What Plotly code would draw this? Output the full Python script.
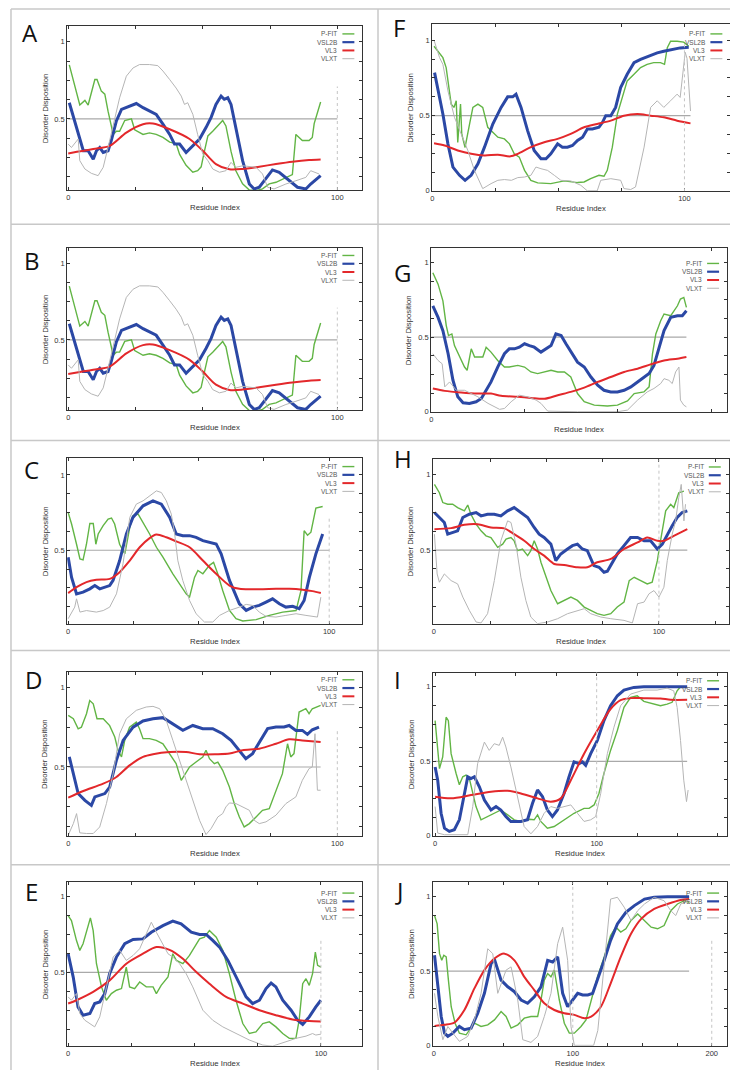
import plotly.graph_objects as go

# ---------------- data: (residue index, disorder score) ----------------
A_PFIT = [(0.4,0.85),(4.3,0.59),(6.2,0.62),(7.4,0.59),(9.9,0.755),(10.7,0.755),(12.3,0.68),(13.6,0.66),(14.8,0.55),(16.7,0.40),
          (17.9,0.42),(19.1,0.42),(21,0.49),(23.5,0.50),(24.7,0.43),(27.8,0.40),(30.2,0.41),(32.7,0.40),(35.2,0.38),(37.7,0.35),
          (40.1,0.34),(41.4,0.27),(43.8,0.20),(46.3,0.155),(48.1,0.165),(49.4,0.19),(50.6,0.29),(51.9,0.39),(53.7,0.42),(55.6,0.455),
          (57.4,0.49),(58.6,0.455),(60.5,0.29),(62.3,0.165),(64.8,0.08),(67.3,0.04),(69.8,0.036),(72.2,0.047),(74.7,0.08),(77.2,0.09),
          (80.9,0.12),(83.3,0.14),(84.6,0.40),(85.8,0.38),(87,0.36),(89.5,0.36),(90.7,0.38),(91.4,0.47),(93.8,0.61)]
A_VSL2B = [(0.4,0.605),(1.9,0.51),(3.7,0.40),(5.6,0.294),(7.4,0.294),(9.3,0.24),(10.5,0.294),(11.7,0.315),(13,0.283),(14.8,0.294),
           (16,0.36),(17.9,0.487),(19.8,0.562),(22.8,0.584),(25.3,0.60),(27.8,0.573),(30.2,0.55),(32.7,0.53),(35.2,0.466),(37.7,0.40),
           (39.5,0.337),(41.4,0.337),(43.8,0.283),(46.3,0.326),(48.8,0.37),(51.2,0.444),(53.1,0.51),(54.9,0.594),(56.8,0.648),(58,0.627),
           (59.3,0.637),(60.5,0.594),(62.3,0.444),(64.8,0.23),(67.3,0.079),(69.1,0.047),(71,0.058),(72.8,0.10),(75.9,0.17),(78.4,0.155),
           (82.1,0.10),(85.2,0.058),(88.3,0.047),(90.1,0.079),(93.8,0.133)]
A_VL3 = [(0,0.277),(9.3,0.305),(15.4,0.326),(21.6,0.412),(27.8,0.466),(31.5,0.47),(37.7,0.433),(45.1,0.37),(50,0.294),(54.9,0.208),
         (59.9,0.174),(64.8,0.176),(71,0.191),(77.2,0.208),(83.3,0.223),(89.5,0.234),(93.8,0.238)]
A_VLXT = [(0,0.337),(1.2,0.315),(3.7,0.37),(4.3,0.23),(6.2,0.176),(8.6,0.148),(11.1,0.133),(13,0.187),(14.8,0.315),(16.7,0.466),
          (19.1,0.637),(21.6,0.777),(24.1,0.83),(26.5,0.852),(30.2,0.852),(33.3,0.845),(35.2,0.81),(37.7,0.755),(40.1,0.70),(42,0.648),
          (43.2,0.594),(44.4,0.605),(46.3,0.53),(48.1,0.40),(50,0.273),(51.9,0.23),(53.7,0.176),(56.2,0.155),(58.6,0.165),(60.5,0.219),
          (62.3,0.187),(64.8,0.197),(69.8,0.187),(72.2,0.144),(74.1,0.058),(76.5,0.047),(80.9,0.079),(84.6,0.10),(88.3,0.122),(90.1,0.165),
          (91.4,0.155),(93.2,0.144)]

# panel B shows the same profiles as panel A
B_PFIT = list(A_PFIT)
B_VSL2B = list(A_VSL2B)
B_VL3 = list(A_VL3)
B_VLXT = list(A_VLXT)

C_PFIT = [(0,0.75),(1.3,0.674),(3.2,0.54),(4.5,0.443),(5.7,0.436),(7,0.54),(8.3,0.678),(9.6,0.678),(10.6,0.54),(11.5,0.608),
          (13.4,0.663),(15.3,0.707),(16.6,0.714),(17.8,0.674),(19.7,0.54),(21.7,0.476),(23.6,0.652),(24.8,0.729),(26.8,0.74),(28.7,0.685),
          (31.2,0.608),(33.8,0.52),(36.3,0.454),(40.1,0.344),(42.7,0.278),(45.2,0.211),(46.5,0.19),(48.4,0.32),(49.7,0.366),(51.6,0.344),
          (54.1,0.40),(55.7,0.42),(57.3,0.344),(59.2,0.233),(61.8,0.101),(64.3,0.046),(66.9,0.031),(72,0.04),(77.1,0.068),(82.2,0.09),
          (87.3,0.10),(89.2,0.233),(90.4,0.63),(91.7,0.60),(93,0.62),(94.9,0.78),(97.5,0.79)]
C_VSL2B = [(0,0.454),(1.3,0.32),(3.2,0.211),(5.7,0.222),(8.3,0.244),(10.2,0.266),(12.1,0.244),(14,0.255),(15.9,0.266),(17.2,0.30),
           (19.7,0.43),(22.3,0.608),(24.8,0.718),(28.7,0.795),(32.5,0.828),(35.7,0.806),(38.9,0.718),(41.4,0.608),(43.9,0.597),(46.5,0.597),
           (49,0.586),(51.6,0.564),(54.1,0.553),(56.7,0.542),(58.6,0.476),(61.8,0.30),(65.6,0.145),(68.2,0.101),(70.7,0.123),(73.2,0.134),
           (75.8,0.156),(78.3,0.178),(80.9,0.145),(83.4,0.123),(86,0.128),(88.5,0.112),(90.4,0.167),(92.4,0.32),(94.9,0.476),(97.5,0.608)]
C_VL3 = [(0,0.216),(3.2,0.255),(7,0.289),(10.8,0.304),(15.9,0.31),(19.7,0.355),(23.6,0.432),(27.4,0.52),(31.2,0.581),(33.8,0.604),
         (37.6,0.586),(41.4,0.559),(46.5,0.52),(51.6,0.432),(56.7,0.344),(61.8,0.266),(65.6,0.244),(73.2,0.242),(79.6,0.244),(84.7,0.244),
         (89.8,0.238),(93.6,0.229),(96.8,0.216)]
C_VLXT = [(0,0.046),(2.5,0.123),(3.2,0.178),(4.5,0.09),(7,0.10),(10.8,0.09),(13.4,0.10),(15.9,0.123),(18.5,0.211),(21,0.41),
          (23.6,0.718),(26.1,0.806),(28.7,0.828),(31.2,0.861),(33.8,0.894),(35.7,0.883),(37.6,0.828),(39.5,0.74),(40.8,0.608),(42,0.432),
          (43.9,0.30),(46.5,0.167),(49,0.079),(52.2,0.024),(55.4,0.024),(58,0.068),(61.8,0.101),(65.6,0.123),(68.2,0.141),(70.7,0.134),
          (73.2,0.09),(75.8,0.062),(79.6,0.057),(83.4,0.068),(87.3,0.079),(91.1,0.068),(93.6,0.062),(95.5,0.057),(96.8,0.189)]

D_PFIT = [(0,0.824),(1.9,0.803),(3.7,0.74),(4.9,0.75),(6.8,0.835),(8,0.918),(9.3,0.897),(10.7,0.803),(13,0.803),(15.4,0.76),
          (17.3,0.688),(18.5,0.605),(19.8,0.563),(21,0.667),(22.8,0.75),(25.3,0.782),(26.5,0.74),(27.8,0.678),(30.2,0.678),(32.7,0.667),
          (35.2,0.646),(37.7,0.584),(40.1,0.521),(42,0.416),(43.2,0.448),(45.1,0.50),(47.5,0.531),(50,0.563),(51.2,0.605),(52.5,0.552),
          (54.3,0.521),(55.6,0.531),(57.4,0.479),(59.9,0.374),(61.7,0.27),(63.6,0.186),(65.4,0.123),(67.3,0.144),(69.8,0.186),(72.2,0.228),
          (74.7,0.238),(77.2,0.354),(79.6,0.458),(81.5,0.646),(82.7,0.563),(83.9,0.584),(85.8,0.845),(88.3,0.866),(89.5,0.835),(90.7,0.866),
          (93.8,0.887)]
D_VSL2B = [(0.4,0.563),(1.9,0.458),(3.7,0.333),(6.2,0.29),(8.6,0.259),(9.9,0.312),(11.7,0.322),(13.6,0.333),(15.4,0.374),(17.9,0.542),
           (20.4,0.667),(24.1,0.75),(27.8,0.789),(31.5,0.803),(35.2,0.81),(38.9,0.772),(42.6,0.73),(46.3,0.761),(50,0.741),(53.7,0.741),
           (57.4,0.709),(60.5,0.667),(63.6,0.605),(66,0.552),(68.5,0.584),(71.6,0.667),(74.1,0.741),(77.2,0.751),(80.2,0.751),(82.1,0.761),
           (84.6,0.73),(87,0.73),(88.9,0.705),(90.7,0.734),(93.2,0.751)]
D_VL3 = [(0,0.307),(5.6,0.349),(13,0.395),(17.9,0.437),(22.8,0.51),(27.8,0.563),(31.5,0.58),(37.7,0.594),(43.8,0.594),(48.8,0.58),
         (54.9,0.58),(59.9,0.584),(64.8,0.605),(71,0.615),(77.2,0.646),(82.1,0.674),(87,0.667),(93.8,0.657)]
D_VLXT = [(0,0.071),(1.9,0.144),(3.1,0.207),(4.3,0.086),(6.8,0.082),(9.3,0.082),(11.7,0.123),(14.2,0.27),(16.7,0.458),(19.1,0.709),
          (21.6,0.803),(25.3,0.856),(29,0.877),(31.5,0.881),(34,0.866),(36.4,0.793),(38.9,0.667),(41.4,0.542),(43.8,0.416),(46.3,0.291),
          (48.8,0.165),(51.2,0.075),(53.1,0.113),(55.6,0.186),(57.4,0.207),(58.6,0.249),(59.9,0.274),(62.3,0.27),(64.8,0.249),(67.3,0.228),
          (69.1,0.165),(71,0.144),(73.5,0.155),(77.2,0.197),(80.9,0.27),(84.6,0.312),(87,0.416),(89.5,0.49),(90.7,0.50),(91.7,0.709),
          (92.6,0.354),(93.8,0.354)]

E_PFIT = [(0,0.875),(1.3,0.842),(3.3,0.71),(4.6,0.645),(5.9,0.689),(7.9,0.82),(8.8,0.86),(9.9,0.776),(11.2,0.557),(13.2,0.404),
          (15.1,0.316),(17.1,0.36),(19.1,0.382),(21.1,0.393),(23,0.535),(24.3,0.404),(26.3,0.393),(28.3,0.436),(30.9,0.404),(33.6,0.404),
          (34.9,0.36),(36.8,0.414),(39.5,0.469),(41.4,0.623),(42.8,0.579),(45.4,0.557),(48,0.612),(50,0.667),(52,0.721),(53.9,0.732),
          (55.9,0.776),(58.6,0.732),(61.2,0.645),(63.8,0.491),(66.4,0.316),(69.1,0.162),(71.7,0.096),(74.3,0.107),(77,0.162),(79.6,0.173),
          (82.2,0.14),(84.9,0.096),(87.5,0.064),(90.1,0.064),(91.4,0.184),(92.8,0.425),(94.1,0.458),(95.4,0.414),(96.7,0.491),(97.8,0.634),
          (98.7,0.546),(100,0.535)]
E_VSL2B = [(0,0.623),(2,0.469),(3.9,0.272),(5.9,0.217),(8.6,0.228),(10.5,0.294),(12.5,0.305),(14.5,0.36),(16.4,0.491),(19.1,0.601),
           (22.4,0.689),(25.7,0.717),(29.6,0.721),(32.9,0.765),(37.5,0.809),(41.4,0.838),(44.7,0.82),(48.7,0.765),(52,0.75),(54.6,0.75),
           (57.2,0.711),(59.9,0.667),(63.2,0.579),(66.4,0.469),(70.4,0.338),(73,0.294),(75.7,0.316),(78.3,0.393),(80.3,0.43),(82.2,0.404),
           (84.9,0.316),(88.2,0.25),(90.8,0.184),(92.8,0.156),(95.4,0.206),(98,0.272),(100,0.316)]
E_VL3 = [(0,0.294),(3.3,0.316),(9.9,0.371),(16.4,0.447),(23,0.557),(29.6,0.623),(34.9,0.667),(40.1,0.649),(45.4,0.59),(50.7,0.502),
         (55.9,0.425),(62.5,0.338),(69.1,0.294),(75.7,0.25),(82.2,0.217),(88.8,0.189),(95.4,0.178),(100,0.175)]
E_VLXT = [(0,0.338),(1.3,0.316),(3.3,0.36),(4.6,0.228),(6.6,0.184),(8.6,0.162),(10.5,0.14),(12.5,0.206),(15.1,0.404),(17.8,0.601),
          (20.4,0.645),(23,0.579),(25.7,0.612),(28.3,0.656),(30.9,0.754),(32.9,0.831),(34.9,0.765),(37.5,0.689),(39.5,0.623),(41.4,0.601),
          (44.1,0.557),(46.7,0.491),(49.3,0.404),(53.3,0.25),(57.2,0.184),(61.2,0.14),(66.4,0.096),(71.7,0.053),(77,0.02),(80.9,0.013),
          (86.2,0.042),(90.1,0.064),(94.1,0.079),(96.7,0.096),(98,0.086),(100,0.092)]

F_PFIT = [(0.7,0.96),(2.2,0.927),(4.2,0.884),(5.5,0.818),(6.5,0.708),(7.5,0.576),(8.6,0.554),(9.5,0.598),(10.1,0.321),(11.2,0.576),
          (11.7,0.376),(13,0.288),(14.8,0.444),(16.1,0.554),(18.1,0.576),(20,0.554),(22,0.422),(24,0.389),(26,0.356),(28.6,0.345),
          (30.6,0.312),(32.5,0.246),(34.5,0.224),(36.6,0.136),(39.1,0.07),(41.8,0.053),(47,0.048),(52.3,0.066),(57.6,0.055),(60.2,0.059),
          (62.8,0.081),(66.1,0.103),(68.1,0.097),(69.4,0.136),(71.4,0.29),(73.4,0.51),(75.4,0.62),(77.3,0.73),(80,0.774),(82.6,0.818),
          (85.2,0.84),(87.8,0.851),(90.5,0.851),(92.1,0.84),(93.2,0.95),(94.5,0.993),(97.1,0.993),(99.7,0.987),(101.7,0.96)]
F_VSL2B = [(0.9,0.785),(2.2,0.686),(4.2,0.51),(6.2,0.312),(8.2,0.158),(10.8,0.103),(13,0.07),(15.4,0.103),(18.1,0.18),(20.7,0.29),
           (24,0.444),(27.3,0.554),(29.9,0.624),(31.9,0.624),(33.2,0.642),(35.2,0.554),(37.8,0.40),(40.4,0.268),(43.1,0.213),(45.1,0.213),
           (47,0.246),(49.7,0.312),(51.6,0.29),(53.6,0.29),(55.6,0.301),(57.6,0.334),(59.6,0.356),(61.5,0.411),(63.5,0.411),(66.1,0.422),
           (67.5,0.455),(68.8,0.499),(70.8,0.499),(72.7,0.554),(74.7,0.686),(77.3,0.774),(80,0.851),(82.6,0.873),(85.9,0.895),(89.2,0.916),
           (91.8,0.927),(94.5,0.938),(98.3,0.949),(101.7,0.954)]
F_VL3 = [(0.7,0.316),(4.9,0.301),(10.1,0.268),(15.4,0.246),(20.7,0.235),(26,0.24),(31,0.229),(33.9,0.246),(39.1,0.29),(44.4,0.323),
         (49.7,0.345),(54.9,0.378),(60.2,0.422),(65.4,0.444),(70.8,0.466),(76,0.499),(81.3,0.51),(86.6,0.499),(91.8,0.488),(97.1,0.466),
         (102.4,0.448)]
F_VLXT = [(0.7,1.0),(1.6,0.95),(2.9,0.884),(4.2,0.84),(6.2,0.664),(8.8,0.488),(11.5,0.378),(14.1,0.268),(16.7,0.136),(20,0.015),
          (23.3,0.048),(26,0.07),(28.6,0.075),(31.4,0.07),(33.9,0.088),(36.6,0.092),(39.1,0.103),(41.1,0.158),(43.1,0.147),(45.7,0.136),
          (48.4,0.103),(51,0.07),(54.9,0.066),(58.9,0.037),(61.5,0.0),(65.4,0.0),(66.8,0.07),(70.8,0.081),(74.7,0.07),(76,0.015),
          (78.7,0.009),(80.6,0.026),(84,0.29),(86.6,0.554),(89.2,0.598),(91.8,0.554),(94.5,0.598),(97.1,0.642),(98.3,0.62),(99.7,0.85),
          (100.3,0.92),(101,0.88),(102.4,0.53)]

G_PFIT = [(0.4,0.933),(1.8,0.856),(3.1,0.744),(4,0.578),(4.6,0.511),(5.5,0.522),(6.2,0.444),(7.6,0.367),(8.9,0.30),(9.6,0.278),
          (10.7,0.422),(11.6,0.367),(12.5,0.367),(13.8,0.367),(14.7,0.433),(16,0.40),(17.8,0.344),(19.6,0.30),(20.9,0.30),(23.2,0.311),
          (25,0.30),(26.7,0.267),(28.5,0.256),(30.3,0.267),(32.1,0.278),(33.9,0.267),(35.7,0.267),(37.4,0.233),(39.2,0.122),(41,0.067),
          (43.7,0.044),(47.2,0.038),(49.9,0.044),(52.6,0.073),(54.4,0.122),(57,0.133),(58.4,0.167),(59.3,0.389),(60.2,0.522),(61.5,0.611),
          (62.4,0.656),(64.2,0.644),(66,0.711),(66.8,0.756),(67.7,0.767),(68.4,0.70)]
G_VSL2B = [(0.4,0.711),(1.8,0.633),(3.1,0.544),(4.5,0.389),(5.8,0.211),(7.1,0.10),(8.5,0.06),(10.2,0.056),(12,0.067),(13.4,0.089),
           (14.7,0.144),(16,0.20),(17.8,0.30),(19.6,0.389),(20.9,0.422),(22.3,0.422),(23.6,0.433),(25,0.456),(26.3,0.444),(27.6,0.433),
           (29.4,0.40),(30.7,0.422),(32.1,0.444),(33.4,0.522),(34.8,0.511),(36.1,0.456),(37.9,0.389),(39.2,0.333),(41,0.30),(42.8,0.233),
           (44.6,0.178),(46.3,0.144),(48.1,0.133),(49.9,0.133),(51.7,0.144),(53.5,0.167),(55.3,0.20),(57,0.233),(58.4,0.256),(59.7,0.311),
           (61.1,0.433),(62.4,0.544),(64.2,0.633),(66,0.644),(67.3,0.644),(68.4,0.678)]
G_VL3 = [(0.4,0.156),(3.6,0.14),(8,0.129),(12.5,0.122),(16,0.122),(18.7,0.107),(23.2,0.10),(26.7,0.093),(30.3,0.087),(33.9,0.111),
         (37.4,0.133),(41,0.162),(44.6,0.20),(48.1,0.233),(51.7,0.267),(55.3,0.289),(58.8,0.318),(62.4,0.344),(66,0.356),(68.4,0.367)]
G_VLXT = [(0.4,0.389),(1.8,0.344),(2.9,0.322),(3.6,0.167),(4.9,0.20),(6.7,0.144),(8.9,0.144),(10.7,0.122),(12.5,0.10),(15.2,0.056),
          (18.3,0.016),(19.6,0.022),(21.4,0.067),(23.6,0.111),(25.8,0.10),(28.1,0.078),(29.4,0.056),(31.2,0.004),(35.7,0.0),(39.2,0.0),
          (42.8,0.0),(46.3,0.0),(49.9,0.0),(52.6,0.011),(55.3,0.078),(57.9,0.133),(59.7,0.156),(61.5,0.189),(62.4,0.222),(63.7,0.211),
          (64.6,0.189),(65.5,0.267),(66.4,0.30),(66.8,0.078),(67.7,0.044),(68.4,0.033)]

H_PFIT = [(0.3,0.934),(2.5,0.879),(4,0.814),(6.2,0.803),(8.4,0.803),(10.6,0.781),(13.6,0.759),(15.1,0.798),(16.5,0.737),(18.8,0.671),
          (21,0.627),(23.2,0.594),(25.4,0.583),(28.4,0.518),(30.6,0.539),(32.1,0.572),(34.3,0.583),(35.7,0.561),(37.2,0.496),(39.4,0.507),
          (41.7,0.463),(43.1,0.496),(44.6,0.561),(46.1,0.507),(47.6,0.419),(49.8,0.32),(52,0.232),(55,0.145),(57.9,0.167),(60.9,0.189),
          (63.8,0.167),(66.8,0.123),(69.7,0.101),(72.6,0.079),(75.6,0.068),(78.6,0.079),(81.5,0.123),(84.5,0.156),(86.8,0.298),(89,0.32),
          (91.9,0.298),(94.8,0.276),(97,0.287),(99.3,0.43),(100.7,0.561),(103,0.759),(105.2,0.803),(106.6,0.781),(108.8,0.879),(111.1,0.89)]
H_VSL2B = [(0.3,0.748),(2.5,0.715),(4.7,0.682),(6.2,0.605),(8.4,0.616),(10.6,0.627),(12.9,0.715),(15.8,0.737),(18.8,0.748),(21,0.726),
           (23.9,0.737),(26.9,0.737),(29.8,0.726),(32.8,0.759),(35.7,0.781),(38.7,0.748),(41.7,0.715),(44.6,0.649),(46.8,0.605),(49,0.583),
           (52,0.539),(54.2,0.43),(56.4,0.474),(59.4,0.507),(61.6,0.529),(63.8,0.539),(66,0.507),(68.2,0.496),(71.1,0.397),(73.4,0.386),
           (75.6,0.353),(77.1,0.36),(79.3,0.419),(81.5,0.474),(84.5,0.529),(87.4,0.583),(90.5,0.583),(93.4,0.561),(96.3,0.561),(99.3,0.507),
           (101.5,0.539),(103.7,0.605),(105.9,0.66),(108.1,0.715),(110.3,0.748),(112.6,0.759)]
H_VL3 = [(0.3,0.638),(7.7,0.645),(13.6,0.667),(19.5,0.671),(25.4,0.649),(31.3,0.643),(35.7,0.605),(40.2,0.561),(44.6,0.507),(49,0.463),
         (53.5,0.408),(57.9,0.401),(63.8,0.386),(68.2,0.386),(72.6,0.419),(78.6,0.441),(84.5,0.507),(90.5,0.55),(94.8,0.583),(99.3,0.561),
         (102.2,0.561),(106.6,0.594),(112.6,0.638)]
H_VLXT = [(0.3,0.605),(1.5,0.342),(2.5,0.287),(4.7,0.342),(7.7,0.298),(10.6,0.276),(12.9,0.189),(15.8,0.101),(18.8,0.024),(21,0.018),
          (23.9,0.079),(26.9,0.298),(29.8,0.561),(32.8,0.693),(34.3,0.682),(36.5,0.539),(38.7,0.32),(40.9,0.167),(43.1,0.057),(46.1,0.013),
          (50.5,0.024),(55,0.046),(59.4,0.079),(63.8,0.101),(66.8,0.112),(69.7,0.079),(74.2,0.057),(78.6,0.046),(84.5,0.035),(88.2,0.018),
          (90.5,0.145),(93.4,0.156),(95.6,0.211),(97.8,0.232),(100,0.189),(102.2,0.254),(103.7,0.43),(105.9,0.605),(107.4,0.693),(108.8,0.846),
          (109.9,0.934),(111.1,0.693),(111.8,0.803)]

I_PFIT = [(0,0.773),(1.6,0.551),(2.7,0.451),(4.7,0.529),(6.8,0.796),(8.2,0.773),(9.9,0.551),(13,0.418),(15,0.342),(17.1,0.396),
          (19.1,0.407),(21.2,0.384),(23.3,0.284),(25.3,0.196),(28.4,0.107),(32.5,0.129),(36.6,0.151),(40.7,0.173),(44.9,0.14),(49,0.107),
          (53.1,0.096),(58.2,0.111),(61.3,0.107),(63.4,0.14),(65.4,0.096),(69.5,0.051),(73.7,0.062),(79.8,0.107),(86,0.151),(92.2,0.184),
          (95.3,0.184),(98.4,0.207),(101.4,0.284),(104.5,0.418),(108.6,0.573),(112.8,0.707),(116.9,0.862),(121,0.929),(125.1,0.94),(129.2,0.902),
          (135.4,0.884),(139.5,0.873),(143.6,0.884),(146.7,0.896),(149.8,0.973),(151.9,1.0),(156,0.996)]
I_VSL2B = [(0,0.462),(1.6,0.373),(3.7,0.151),(5.8,0.051),(8.8,0.029),(11.9,0.04),(15,0.107),(18.1,0.284),(20.2,0.396),(22.2,0.384),
           (24.3,0.396),(27.4,0.329),(30.5,0.24),(34.6,0.173),(37.7,0.196),(40.7,0.173),(43.8,0.129),(46.9,0.096),(53.1,0.096),(57.2,0.107),
           (60.3,0.218),(63.4,0.307),(66.5,0.262),(69.5,0.173),(72.6,0.129),(75.7,0.173),(79.8,0.284),(82.9,0.396),(86,0.496),(89.1,0.484),
           (91.2,0.496),(93.2,0.473),(96.3,0.551),(100.4,0.64),(104.5,0.773),(108.6,0.873),(112.8,0.94),(116.9,0.978),(123,0.996),(129.2,1.0),
           (139.5,1.0),(156,1.0)]
I_VL3 = [(0,0.262),(9.9,0.251),(22.2,0.273),(34.6,0.296),(44.9,0.302),(53.1,0.284),(63.4,0.251),(71.6,0.229),(77.8,0.251),(84,0.373),
         (92.2,0.551),(100.4,0.707),(108.6,0.851),(114.8,0.911),(121,0.924),(129.2,0.924),(139.5,0.922),(145.7,0.913),(156,0.913)]
I_VLXT = [(0,0.196),(1.6,0.018),(5.8,0.007),(14,0.007),(20.2,0.007),(23.3,0.196),(26.3,0.484),(30.5,0.629),(33.5,0.573),(36.6,0.618),
          (39.7,0.607),(41.8,0.662),(43.8,0.596),(46.9,0.462),(51,0.262),(55.1,0.062),(59.3,0.013),(63.4,0.062),(67.5,0.151),(71.6,0.196),
          (75.7,0.184),(79.8,0.196),(84,0.207),(88.1,0.151),(92.2,0.096),(96.3,0.107),(99.4,0.129),(102.5,0.284),(106.6,0.551),(110.7,0.729),
          (114.8,0.873),(121,0.951),(129.2,0.978),(137.4,0.978),(143.6,0.991),(147.7,0.973),(149.8,0.862),(151.9,0.64),(153.9,0.373),(155.6,0.229),
          (156.6,0.307)]

J_PFIT = [(0.5,0.873),(2.4,0.817),(4.1,0.617),(5.7,0.572),(7.2,0.606),(8.9,0.595),(10.5,0.439),(12.5,0.26),(15.3,0.149),(18.4,0.082),
          (23.2,0.071),(29.2,0.149),(34,0.127),(38.8,0.138),(43.6,0.171),(48.4,0.227),(52,0.194),(55.6,0.116),(60.4,0.138),(65.1,0.183),
          (69.9,0.194),(74.7,0.194),(77.1,0.305),(79.5,0.439),(81.9,0.483),(84.3,0.461),(86.7,0.506),(90.3,0.305),(93.9,0.149),(97.5,0.082),
          (101.1,0.082),(105.9,0.127),(109.5,0.171),(113.2,0.305),(117.8,0.461),(122.6,0.595),(127.2,0.739),(131,0.795),(134.5,0.762),(138.2,0.784),
          (141.9,0.84),(146.7,0.884),(151.6,0.84),(156.4,0.795),(161,0.784),(165.7,0.806),(170.5,0.906),(175.3,0.951),(180.1,0.973),(183.7,0.962)]
J_VSL2B = [(0.5,0.606),(2.9,0.416),(5.3,0.194),(7.7,0.082),(10.1,0.06),(13.7,0.082),(18.4,0.127),(22,0.105),(26.8,0.116),(31.6,0.216),
           (36.4,0.35),(41.2,0.55),(43.6,0.579),(48.4,0.439),(53.2,0.394),(58,0.361),(62.8,0.305),(67.5,0.283),(72.3,0.327),(77.1,0.394),
           (81.9,0.572),(85.5,0.561),(89.1,0.595),(92.7,0.35),(96.3,0.26),(99.9,0.305),(103.5,0.35),(107.1,0.339),(110.8,0.339),(114.3,0.35),
           (117.8,0.439),(122.6,0.572),(127.2,0.706),(132.1,0.817),(138.2,0.895),(144.3,0.94),(151.6,0.984),(158.6,0.996),(168.1,1.0),(183.7,1.0)]
J_VL3 = [(0.5,0.131),(7.7,0.138),(14.9,0.154),(22,0.238),(29.2,0.383),(36.4,0.506),(43.6,0.584),(50.8,0.617),(58,0.572),(65.1,0.461),
         (72.3,0.372),(79.5,0.283),(86.7,0.238),(93.9,0.216),(101.1,0.205),(108.3,0.183),(113.2,0.194),(120.2,0.26),(127.2,0.416),(134.5,0.595),
         (141.9,0.751),(149.2,0.851),(158.6,0.918),(168.1,0.951),(177.7,0.978),(183.7,0.984)]
J_VLXT = [(0.5,0.35),(2.9,0.194),(6.5,0.038),(10.1,0.127),(13.7,0.082),(18.4,0.027),(24.4,0.06),(29.2,0.171),(34,0.35),(38.8,0.65),
          (42.4,0.617),(46,0.35),(52,0.506),(55.6,0.528),(60.4,0.305),(64,0.038),(69.9,0.02),(74.7,0.06),(79.5,0.194),(84.3,0.35),
          (89.1,0.684),(92.7,0.795),(96.3,0.572),(98.7,0.127),(101.1,0.0),(115,0.0),(118,0.1),(122.6,0.55),(127.2,0.984),(132.1,0.996),
          (137,0.929),(141.9,0.84),(146.7,0.906),(151.6,0.951),(158.6,0.996),(165.7,0.973),(170.5,0.906),(174.1,0.873),(177.7,0.951),(183.7,0.973)]

PANELS = ['A', 'B', 'C', 'D', 'E', 'F', 'G', 'H', 'I', 'J']
SERIES_NAMES = ['P-FIT', 'VSL2B', 'VL3', 'VLXT']
PANEL_DATA = {
    'A': [A_PFIT, A_VSL2B, A_VL3, A_VLXT], 'B': [B_PFIT, B_VSL2B, B_VL3, B_VLXT],
    'C': [C_PFIT, C_VSL2B, C_VL3, C_VLXT], 'D': [D_PFIT, D_VSL2B, D_VL3, D_VLXT],
    'E': [E_PFIT, E_VSL2B, E_VL3, E_VLXT], 'F': [F_PFIT, F_VSL2B, F_VL3, F_VLXT],
    'G': [G_PFIT, G_VSL2B, G_VL3, G_VLXT], 'H': [H_PFIT, H_VSL2B, H_VL3, H_VLXT],
    'I': [I_PFIT, I_VSL2B, I_VL3, I_VLXT], 'J': [J_PFIT, J_VSL2B, J_VL3, J_VLXT],
}
THRESHOLD = 0.5
THRESHOLD_END = {'A': 100, 'B': 100, 'C': 100, 'D': 93.8, 'E': 100, 'F': 102.4, 'G': 68.4, 'H': 112.6, 'I': 156, 'J': 183.7}
# dotted guide lines at residue 100/200: (x, top y)
GUIDES = {'A': [(100, 0.71)], 'B': [(100, 0.71)], 'C': [(100, 0.71)], 'D': [(100, 0.73)], 'E': [(100, 0.71)],
          'F': [(100, 0.98)], 'G': [], 'H': [(100, 1.1)], 'I': [(100, 1.1)], 'J': [(100, 1.1), (200, 0.706)]}
X_RANGE = {'A': [-0.4, 109.3], 'B': [-0.4, 109.3], 'C': [-0.4, 112.7], 'D': [-0.4, 109.3], 'E': [-0.4, 116.4],
           'F': [-0.05, 118.2], 'G': [-0.05, 79.3], 'H': [-0.4, 131], 'I': [-1.4, 180.7], 'J': [-0.7, 211]}
Y_RANGE = {'A': [0.04, 1.1], 'B': [0.04, 1.1], 'C': [0.013, 1.11], 'D': [0.065, 1.10], 'E': [0.015, 1.094],
           'F': [-0.003, 1.108], 'G': [-0.003, 1.1], 'H': [0.013, 1.1], 'I': [-0.003, 1.096], 'J': [-0.003, 1.096]}

# ---------------- layout geometry (pixels) ----------------
W, H = 738, 1070
FRAMES = {  # left, top, right, bottom
    'A': (57.3, 18.3, 353.3, 182.7), 'B': (57.3, 240.7, 353.3, 404.0), 'C': (57.3, 452.0, 353.3, 618.0),
    'D': (57.3, 666.0, 353.3, 831.3), 'E': (57.3, 877.7, 353.3, 1041.7),
    'F': (423.3, 16.0, 722.3, 184.0), 'G': (422.3, 240.7, 719.0, 405.7), 'H': (424.0, 453.0, 720.7, 618.0),
    'I': (424.0, 667.0, 719.0, 831.3), 'J': (424.0, 877.7, 719.0, 1041.7),
}
LETTER_POS = {'A': (20.5, 25), 'B': (22.5, 253), 'C': (22, 463.5), 'D': (23.5, 674.5), 'E': (22, 886.5),
              'F': (390, 19.5), 'G': (394, 265.5), 'H': (394, 452.5), 'I': (389, 674.5), 'J': (390, 885.5)}
LEGEND_TOP = {'A': 7.7, 'B': 7.7, 'C': 8.3, 'D': 8.3, 'E': 10.7, 'F': 10, 'G': 15.7, 'H': 7.7, 'I': 8.3, 'J': 10.7}
STYLES = [('#62b545', 1.4, 'linear'), ('#2b48a5', 3.0, 'linear'), ('#e3282b', 2.0, 'spline'), ('#b5b5b5', 1.0, 'linear')]
TICK_COLOR = '#333333'
FONT = 'Liberation Sans'


def fx(p):
    return p / W


def fy(p):
    return 1 - p / H


fig = go.Figure()
layout = dict(width=W, height=H, margin=dict(l=0, r=0, t=0, b=0), paper_bgcolor='white',
              plot_bgcolor='white', showlegend=False)
annotations = []
shapes = []

for i, name in enumerate(PANELS):
    suf = '' if i == 0 else str(i + 1)
    xa, ya = 'x' + suf, 'y' + suf
    L, T, R, B = FRAMES[name]
    xr, yr = X_RANGE[name], Y_RANGE[name]

    xt = [k * 25 for k in range(0, int(xr[1] // 25) + 1)]
    xtt = [str(v) if v % 100 == 0 else '' for v in xt]
    yt = [k * 0.125 for k in range(0, 9) if yr[0] <= k * 0.125 <= yr[1]]
    ytt = [('1' if v == 1 else '0.5' if v == 0.5 else '0' if v == 0 else '') for v in yt]

    common = dict(showline=True, mirror='ticks', linecolor=TICK_COLOR, linewidth=1, ticks='inside',
                  ticklen=3, tickwidth=1, tickcolor=TICK_COLOR, showgrid=False, zeroline=False,
                  tickfont=dict(family=FONT, size=7.5, color=TICK_COLOR))
    layout['xaxis' + suf] = dict(domain=[fx(L), fx(R)], range=xr, anchor=ya, tickmode='array',
                                 tickvals=xt, ticktext=xtt, **common)
    layout['yaxis' + suf] = dict(domain=[fy(B), fy(T)], range=yr, anchor=xa, tickmode='array',
                                 tickvals=yt, ticktext=ytt, **common)

    # threshold line
    fig.add_trace(go.Scatter(x=[0, THRESHOLD_END[name]], y=[THRESHOLD, THRESHOLD], mode='lines',
                             line=dict(color='#a9a9a9', width=1.2), xaxis=xa, yaxis=ya, hoverinfo='skip'))
    for gx, gtop in GUIDES[name]:
        shapes.append(dict(type='line', xref=xa, yref=ya, x0=gx, x1=gx, y0=yr[0], y1=gtop,
                           line=dict(color='#c4c4c4', width=1, dash='dot')))

    for sname, series, (col, wid, shp) in zip(SERIES_NAMES, PANEL_DATA[name], STYLES):
        line = dict(color=col, width=wid, shape=shp)
        if shp == 'spline':
            line['smoothing'] = 0.8
        fig.add_trace(go.Scatter(x=[p[0] for p in series], y=[p[1] for p in series], mode='lines',
                                 name=sname, line=line, xaxis=xa, yaxis=ya))

    # legend (key) inside top-right of frame
    for k, (sname, (col, wid, _)) in enumerate(zip(SERIES_NAMES, STYLES)):
        yy = T + LEGEND_TOP[name] + k * 8.3
        shapes.append(dict(type='line', xref='paper', yref='paper', x0=fx(R - 20), x1=fx(R - 8),
                           y0=fy(yy), y1=fy(yy), line=dict(color=col, width=min(wid, 2.2))))
        annotations.append(dict(x=fx(R - 23), y=fy(yy), xref='paper', yref='paper', text=sname,
                                showarrow=False, xanchor='right', yanchor='middle',
                                font=dict(family=FONT, size=6.5, color='#555555')))

    # axis titles
    annotations.append(dict(x=fx((L + R) / 2), y=fy(B + 17.5), xref='paper', yref='paper', text='Residue Index',
                            showarrow=False, xanchor='center', yanchor='middle',
                            font=dict(family=FONT, size=7.8, color=TICK_COLOR)))
    annotations.append(dict(x=fx(L - 22), y=fy((T + B) / 2), xref='paper', yref='paper',
                            text='Disorder Disposition', textangle=-90, showarrow=False,
                            xanchor='center', yanchor='middle',
                            font=dict(family=FONT, size=7.8, color=TICK_COLOR)))
    # panel letter
    lx, ly = LETTER_POS[name]
    annotations.append(dict(x=fx(lx), y=fy(ly), xref='paper', yref='paper', text=name, showarrow=False,
                            xanchor='center', yanchor='middle',
                            font=dict(family='Open Sans', size=24, color='#111111')))

# cell borders
for xv in [1.0, 369.0, 736.5]:
    shapes.append(dict(type='line', xref='paper', yref='paper', x0=fx(xv), x1=fx(xv), y0=fy(1), y1=fy(1068),
                       line=dict(color='#c8c8c8', width=1.5)))
for yv in [1.0, 217.0, 434.0, 645.0, 860.0, 1068.0]:
    shapes.append(dict(type='line', xref='paper', yref='paper', x0=fx(1), x1=fx(736.5), y0=fy(yv), y1=fy(yv),
                       line=dict(color='#c8c8c8', width=1.5)))

layout['annotations'] = annotations
layout['shapes'] = shapes
fig.update_layout(**layout)
fig.write_html('out.html')
